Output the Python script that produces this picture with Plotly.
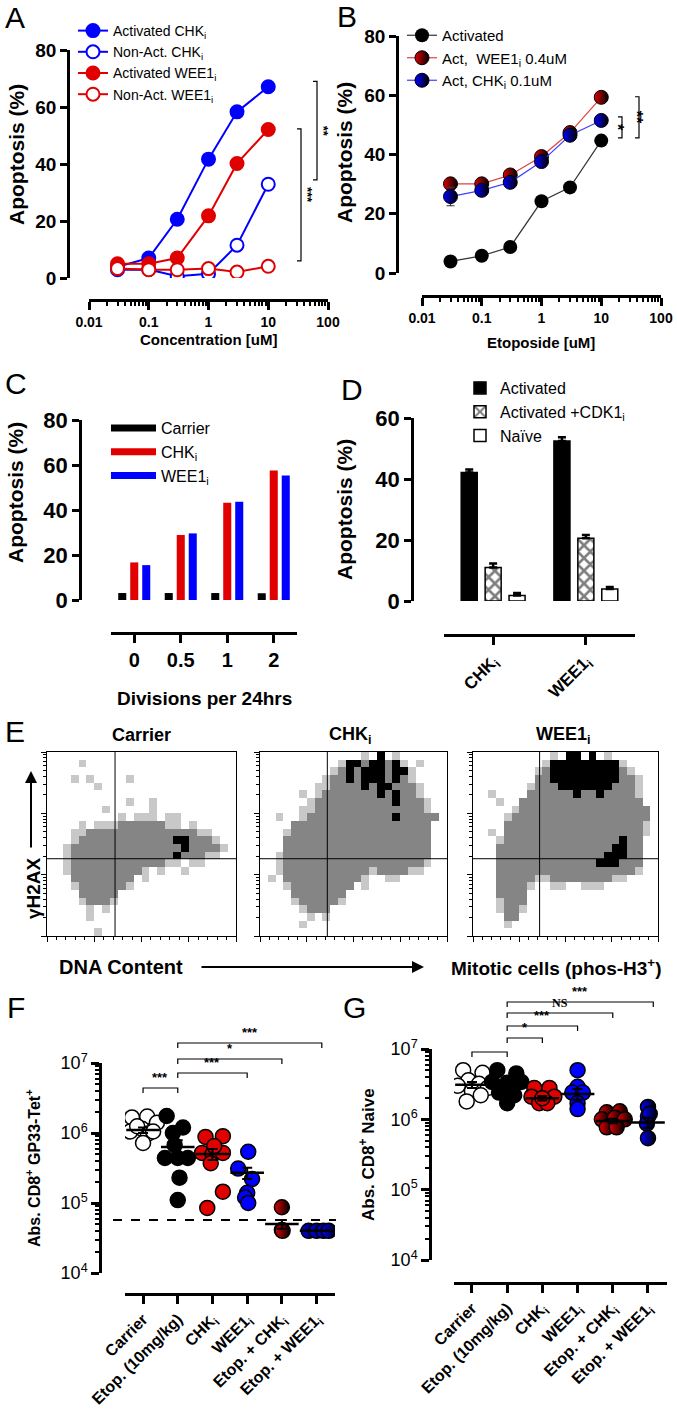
import math
import plotly.graph_objects as go

W, H = 677, 1427
FONT = "Liberation Sans, Arial, Helvetica, sans-serif"
SERIF = "Liberation Serif, Times New Roman, serif"
BLUE = "#0000ff"
RED = "#e00000"
GREY = "#858585"
LIGHT_GREY = "#c8c8c8"


def fx(px):
    return px / W


def fy(py):
    return 1 - py / H


# ---------------- Panel A ----------------
A_CONC = [0.03, 0.1, 0.3, 1, 3, 10]
A_ACT_CHK = [3.9, 7.0, 20.6, 41.7, 58.3, 67.1]
A_NONACT_CHK = [2.9, 3.0, 0.6, 1.5, 11.5, 32.9]
A_ACT_WEE1 = [5.0, 5.0, 7.0, 21.8, 40.2, 52.1]
A_NONACT_WEE1 = [3.3, 2.9, 2.9, 3.3, 2.1, 4.1]
LOG_TICKS = [0.01, 0.1, 1, 10, 100]
LOG_TICKTEXT = ["0.01", "0.1", "1", "10", "100"]

# ---------------- Panel B ----------------
B_CONC = [0.03, 0.1, 0.3, 1, 3, 10]
B_ACT = [3.9, 5.8, 8.8, 24.2, 28.9, 44.7]
B_ACT_WEE1 = [30.1, 30.1, 33.1, 39.3, 47.4, 59.3]
B_ACT_WEE1_ERR = [1.0, 1.0, 1.2, 1.2, 1.0, 1.0]
B_ACT_CHK = [25.8, 27.9, 30.6, 37.6, 46.5, 51.5]
B_ACT_CHK_ERR = [3.1, 0.8, 0.8, 1.8, 0.8, 0.8]

# ---------------- Panel C ----------------
C_DIVISIONS = ["0", "0.5", "1", "2"]
C_CARRIER = [3.1, 3.1, 3.1, 3.0]
C_CHK = [16.7, 28.9, 43.2, 57.6]
C_WEE1 = [15.5, 29.6, 43.7, 55.3]

# ---------------- Panel D ----------------
D_CATS = ["CHK", "WEE1"]
D_CAT_LABELS = ["CHK<sub>i</sub>", "WEE1<sub>i</sub>"]
D_ACT = [42.1, 52.5]
D_ACT_ERR = [1.0, 1.2]
D_CDK1 = [11.0, 20.6]
D_CDK1_ERR = [1.3, 1.0]
D_NAIVE = [1.8, 3.9]
D_NAIVE_ERR = [0.8, 0.7]

# ---------------- Panel E (density levels: ' ' none, '.' sparse, 'g' grey, 'k' dense) ----
E_TITLES = ["Carrier", "CHK<sub>i</sub>", "WEE1<sub>i</sub>"]
E_CARRIER = [
    "                        ",
    "    .                   ",
    "                        ",
    "   . .    .             ",
    "      .                 ",
    "                        ",
    "          .  .          ",
    "       .     .          ",
    "         . ... ..       ",
    "    . ...gggggg.. .     ",
    "   ..gggggggggggggg..   ",
    "   .ggggggggggggkkggg.  ",
    "  .ggggggggggggggkgggg. ",
    "  .gggggggggggggkggg..  ",
    "  .gggggggggggg.. ..    ",
    "  .ggggggggg. .  .      ",
    "   gggggggg .           ",
    "   .gggggg.             ",
    "    ggggg               ",
    "    .ggg.               ",
    "     . .                ",
    "     .                  ",
    "                        ",
    "      .                 ",
]
E_CHK = [
    "             . k .      ",
    "          .kkgkkgk. .   ",
    "         .gkgkkkgkk.    ",
    "        .ggkgkkkgkg.    ",
    "       ..ggggkgkkggg.   ",
    "     . .gggggggkgkgg.   ",
    "      .ggggggggggkggg.  ",
    "     ..gggggggggggggg.  ",
    "  .  .gggggggggggkggggg ",
    "    gggggggggggggggggg  ",
    "   .gggggggggggggggggg  ",
    "   ggggggggggggggggggg  ",
    "   ggggggggggggggggggg  ",
    "  .ggggggggggggggggggg  ",
    "  .gggggggggggggggggg.  ",
    "  .ggggggggggg.gggg..   ",
    " . gggggggggg.  ..      ",
    "   .gggggggg .          ",
    "    ggggggg             ",
    "    .ggggg.             ",
    "     .ggg               ",
    "      . .               ",
    "     .                  ",
    "                        ",
]
E_WEE1 = [
    "          . kk k .      ",
    "         .kkkkkkkkk.    ",
    "        .gkkkkkkkkkg.   ",
    "        ggkkkkkkkkkgg.  ",
    "       .gggkkkkkkkggg.  ",
    "  .    ggggggkggkgggg.  ",
    "   .  gggggggggggggggg  ",
    "     .ggggggggggggggggg ",
    "    .gggggggggggggggggg ",
    "    gggggggggggggggggg. ",
    "  . gggggggggggggggggg. ",
    "   .gggggggggggggggkgg  ",
    "   gggggggggggggggkkgg  ",
    "   ggggggggggggggkkkgg  ",
    "   gggggggggggggkkkggg  ",
    "   gggggggggggggggggg.  ",
    "   ggggg..gggggggg..    ",
    "   gggg.  ..  ...       ",
    "   gggg                 ",
    "   .ggg                 ",
    "   .gg.                 ",
    "    gg                  ",
    "    .                   ",
    "                        ",
]
E_GATE_X = 0.36
E_GATE_Y = 0.42

# ---------------- Panel F ----------------
GROUP_LABELS = ["Carrier", "Etop. (10mg/kg)", "CHK<sub>i</sub>", "WEE1<sub>i</sub>",
                "Etop. + CHK<sub>i</sub>", "Etop. + WEE1<sub>i</sub>"]
F_CARRIER = [1.67e6, 1.72e6, 1.4e6, 1.05e6, 1.15e6, 0.98e6, 1.25e6, 1.05e6, 7.2e5]
F_CARRIER_DX = [-0.32, 0.12, 0.4, -0.37, -0.03, 0.14, -0.17, 0.29, 0.0]
F_ETOP = [1.75e6, 1.2e6, 1.0e6, 6.7e5, 4.4e5, 4.4e5, 4.4e5, 2.3e5, 1.1e5]
F_ETOP_DX = [-0.32, 0.15, -0.14, -0.09, -0.37, 0.0, 0.29, 0.05, 0.0]
F_CHK = [8.8e5, 9.0e5, 5.2e5, 5.0e5, 5.2e5, 3.7e5, 1.45e5, 8.5e4, 6.5e5]
F_CHK_DX = [-0.2, 0.3, -0.3, 0.0, 0.3, -0.05, 0.3, -0.15, 0.05]
F_WEE1 = [5.4e5, 3.1e5, 2.2e5, 1.4e5, 1.2e5, 1.0e5]
F_WEE1_DX = [0.03, -0.26, 0.14, 0.0, -0.06, 0.03]
F_ETOP_CHK = [8.7e4, 4.1e4, 4.0e4]
F_ETOP_CHK_DX = [0.0, 0.0, 0.02]
F_ETOP_WEE1 = [4.0e4, 4.0e4, 4.0e4, 4.0e4]
F_ETOP_WEE1_DX = [-0.23, 0.0, 0.2, 0.35]
F_MEAN = [1.1e6, 6.3e5, 5.0e5, 2.7e5, 5.0e4, 4.0e4]
F_SEM = [1.0e5, 1.6e5, 9.0e4, 5.0e4, 7.0e3, 0.0]
F_LIMIT = 5.7e4

# ---------------- Panel G ----------------
G_CARRIER = [5.0e6, 4.6e6, 3.6e6, 3.2e6, 3.0e6, 2.8e6, 2.5e6, 2.2e6, 1.8e6]
G_CARRIER_DX = [-0.25, 0.3, -0.1, 0.2, -0.4, 0.45, 0.0, 0.25, -0.15]
G_ETOP = [5.0e6, 4.5e6, 3.4e6, 3.3e6, 3.4e6, 2.4e6, 2.2e6, 1.7e6, 2.8e6]
G_ETOP_DX = [-0.28, 0.26, -0.43, 0.0, 0.4, -0.23, 0.2, 0.0, 0.1]
G_CHK = [2.8e6, 2.8e6, 2.1e6, 2.1e6, 1.7e6, 1.7e6, 2.0e6]
G_CHK_DX = [-0.23, 0.2, -0.31, 0.34, -0.09, 0.14, 0.0]
G_WEE1 = [5.0e6, 2.9e6, 2.4e6, 2.4e6, 1.7e6, 1.4e6]
G_WEE1_DX = [0.0, 0.0, -0.15, 0.15, 0.0, 0.0]
G_ETOP_CHK = [1.26e6, 1.3e6, 1.0e6, 1.05e6, 1.0e6, 7.7e5, 7.7e5]
G_ETOP_CHK_DX = [-0.17, 0.2, -0.31, 0.06, 0.34, -0.17, 0.11]
G_ETOP_WEE1 = [1.5e6, 1.1e6, 8.7e5, 5.4e5, 1.2e6]
G_ETOP_WEE1_DX = [0.0, 0.0, -0.03, 0.0, 0.05]
G_MEAN = [3.1e6, 2.9e6, 2.0e6, 2.3e6, 9.5e5, 9.0e5]
G_SEM = [3.0e5, 3.0e5, 1.5e5, 4.0e5, 7.0e4, 1.5e5]

# =====================================================================
fig = go.Figure()
shapes = []
annotations = []


def bfont(size, bold=True, family=FONT):
    return dict(family=family, size=size, color="black", weight="bold" if bold else "normal")


def add_text(text, xpx, ypx, size, bold=True, angle=0, family=FONT, xanchor="center", yanchor="middle"):
    annotations.append(dict(text=text, x=fx(xpx), y=fy(ypx), xref="paper", yref="paper",
                            showarrow=False, textangle=angle, xanchor=xanchor, yanchor=yanchor,
                            font=bfont(size, bold, family)))


def hbracket(xref, i0, i1, ypx, label, drop=5, size=13, family=FONT):
    shapes.append(dict(type="path", xref=xref, yref="paper",
                       path=f"M {i0},{fy(ypx + drop)} L {i0},{fy(ypx)} L {i1},{fy(ypx)} L {i1},{fy(ypx + drop)}",
                       line=dict(color="black", width=1.2)))
    if label:
        annotations.append(dict(text=label, x=(i0 + i1) / 2, xref=xref, y=fy(ypx - 1), yref="paper",
                                yanchor="bottom", showarrow=False, font=bfont(size, True, family)))


def vbracket(yref, v0, v1, xpx, label, tick=4, text_dx=6, size=13):
    shapes.append(dict(type="path", xref="paper", yref=yref,
                       path=f"M {fx(xpx - tick)},{v0} L {fx(xpx)},{v0} L {fx(xpx)},{v1} L {fx(xpx - tick)},{v1}",
                       line=dict(color="black", width=1.2)))
    annotations.append(dict(text=label, x=fx(xpx + text_dx), y=(v0 + v1) / 2, xref="paper", yref=yref,
                            textangle=90, showarrow=False, font=bfont(size)))


# ---------- Panel A traces ----------
for name, ys, col, filled in [
    ("Activated CHK<sub>i</sub>", A_ACT_CHK, BLUE, True),
    ("Non-Act. CHK<sub>i</sub>", A_NONACT_CHK, BLUE, False),
    ("Activated WEE1<sub>i</sub>", A_ACT_WEE1, RED, True),
    ("Non-Act. WEE1<sub>i</sub>", A_NONACT_WEE1, RED, False),
]:
    fig.add_trace(go.Scatter(
        x=A_CONC, y=ys, name=name, mode="lines+markers", xaxis="x", yaxis="y", legend="legend",
        line=dict(color=col, width=2),
        marker=dict(size=13, color=col if filled else "white", line=dict(color=col, width=2))))

# ---------- Panel B traces ----------
fig.add_trace(go.Scatter(
    x=B_CONC, y=B_ACT, name="Activated", mode="lines+markers", xaxis="x2", yaxis="y2", legend="legend2",
    line=dict(color="#333333", width=1.2), marker=dict(size=14, color="black")))
fig.add_trace(go.Scatter(
    x=B_CONC, y=B_ACT_WEE1, name="Act,  WEE1<sub>i</sub> 0.4uM", mode="lines+markers",
    xaxis="x2", yaxis="y2", legend="legend2",
    error_y=dict(type="data", array=B_ACT_WEE1_ERR, color="#333333", thickness=1.2, width=4),
    line=dict(color="#e04040", width=1.2),
    marker=dict(size=14, color=RED, line=dict(color="black", width=1),
                gradient=dict(type="horizontal", color="black"))))
fig.add_trace(go.Scatter(
    x=B_CONC, y=B_ACT_CHK, name="Act, CHK<sub>i</sub> 0.1uM", mode="lines+markers",
    xaxis="x2", yaxis="y2", legend="legend2",
    error_y=dict(type="data", array=B_ACT_CHK_ERR, color="#333333", thickness=1.2, width=4),
    line=dict(color="#4040ff", width=1.2),
    marker=dict(size=14, color=BLUE, line=dict(color="black", width=1),
                gradient=dict(type="horizontal", color="black"))))

# ---------- Panel C traces ----------
for name, ys, col in [("Carrier", C_CARRIER, "black"), ("CHK<sub>i</sub>", C_CHK, "#e00000"),
                      ("WEE1<sub>i</sub>", C_WEE1, "#0000ff")]:
    fig.add_trace(go.Bar(x=C_DIVISIONS, y=ys, name=name, xaxis="x3", yaxis="y3", showlegend=False,
                         marker=dict(color=col, line=dict(width=0))))
    fig.add_trace(go.Scatter(x=[None], y=[None], name=name, mode="lines", xaxis="x3", yaxis="y3",
                             legend="legend3", legendgroup=name, line=dict(color=col, width=7)))

# ---------- Panel D traces ----------
fig.add_trace(go.Bar(
    x=D_CATS, y=D_ACT, name="Activated", xaxis="x4", yaxis="y4", legend="legend4",
    marker=dict(color="black", line=dict(color="black", width=1.5)),
    error_y=dict(type="data", array=D_ACT_ERR, arrayminus=[0, 0], color="black", thickness=2.5, width=4)))
fig.add_trace(go.Bar(
    x=D_CATS, y=D_CDK1, name="Activated +CDK1<sub>i</sub>", xaxis="x4", yaxis="y4", legend="legend4",
    marker=dict(color="white", line=dict(color="black", width=1.5),
                pattern=dict(shape="x", fgcolor="black", bgcolor="white", size=9, solidity=0.5,
                             fillmode="overlay")),
    error_y=dict(type="data", array=D_CDK1_ERR, arrayminus=[0, 0], color="black", thickness=2.5, width=4)))
fig.add_trace(go.Bar(
    x=D_CATS, y=D_NAIVE, name="Naïve", xaxis="x4", yaxis="y4", legend="legend4",
    marker=dict(color="white", line=dict(color="black", width=1.5)),
    error_y=dict(type="data", array=D_NAIVE_ERR, arrayminus=[0, 0], color="black", thickness=2.5, width=4)))

# ---------- Panel E traces ----------
LEVEL = {" ": 0, ".": 1, "g": 2, "k": 3}
E_N = 24
E_XS = [(i + 0.5) / E_N for i in range(E_N)]
E_YS = [1 - (r + 0.5) / E_N for r in range(E_N)]
E_SCALE = [[0, "white"], [0.1667, "white"], [0.1667, LIGHT_GREY], [0.5, LIGHT_GREY],
           [0.5, GREY], [0.8333, GREY], [0.8333, "black"], [1, "black"]]
for k, grid in enumerate([E_CARRIER, E_CHK, E_WEE1]):
    n = 5 + k
    z = [[LEVEL.get(ch, 0) for ch in row.ljust(E_N)[:E_N]] for row in grid]
    fig.add_trace(go.Heatmap(x=E_XS, y=E_YS, z=z, zmin=0, zmax=3, colorscale=E_SCALE, showscale=False,
                             xaxis=f"x{n}", yaxis=f"y{n}", hoverinfo="skip"))
    shapes.append(dict(type="line", xref=f"x{n}", yref=f"y{n}", x0=E_GATE_X, x1=E_GATE_X, y0=0, y1=1,
                       line=dict(color="black", width=1)))
    shapes.append(dict(type="line", xref=f"x{n}", yref=f"y{n}", x0=0, x1=1, y0=E_GATE_Y, y1=E_GATE_Y,
                       line=dict(color="black", width=1)))


# ---------- Panels F & G traces ----------
def dot_traces(xa, ya, groups, means, sems):
    styles = [
        dict(color="white", line=dict(color="black", width=1.5)),
        dict(color="black", line=dict(color="black", width=1.5)),
        dict(color=RED, line=dict(color="black", width=1.5)),
        dict(color=BLUE, line=dict(color="black", width=1.5)),
        dict(color=RED, line=dict(color="black", width=1.5), gradient=dict(type="horizontal", color="black")),
        dict(color=BLUE, line=dict(color="black", width=1.5), gradient=dict(type="horizontal", color="black")),
    ]
    for gi, (vals, dxs) in enumerate(groups):
        fig.add_trace(go.Scatter(x=[gi + d for d in dxs], y=vals, mode="markers", xaxis=xa, yaxis=ya,
                                 showlegend=False, marker=dict(size=15, **styles[gi])))
    fig.add_trace(go.Scatter(x=list(range(len(means))), y=means, mode="markers", xaxis=xa, yaxis=ya,
                             showlegend=False,
                             marker=dict(symbol="line-ew", size=24, line=dict(color="black", width=2.5)),
                             error_y=dict(type="data", array=sems, color="black", thickness=2, width=5)))


dot_traces("x8", "y8", [(F_CARRIER, F_CARRIER_DX), (F_ETOP, F_ETOP_DX), (F_CHK, F_CHK_DX),
                        (F_WEE1, F_WEE1_DX), (F_ETOP_CHK, F_ETOP_CHK_DX), (F_ETOP_WEE1, F_ETOP_WEE1_DX)],
           F_MEAN, F_SEM)
dot_traces("x9", "y9", [(G_CARRIER, G_CARRIER_DX), (G_ETOP, G_ETOP_DX), (G_CHK, G_CHK_DX),
                        (G_WEE1, G_WEE1_DX), (G_ETOP_CHK, G_ETOP_CHK_DX), (G_ETOP_WEE1, G_ETOP_WEE1_DX)],
           G_MEAN, G_SEM)

shapes.append(dict(type="line", xref="paper", yref="y8", x0=fx(113), x1=fx(336), y0=F_LIMIT, y1=F_LIMIT,
                   line=dict(color="black", width=2, dash="dash")))


# =====================================================================
def prism(**kw):
    d = dict(showline=True, linewidth=2.5, linecolor="black", ticks="outside", tickwidth=2.5, ticklen=7,
             tickcolor="black", showgrid=False, zeroline=False, fixedrange=True, automargin=False,
             tickfont=bfont(18))
    d.update(kw)
    return d


LOG_MINOR = [k * 10 ** e for e in range(-2, 2) for k in range(2, 10)]
DEC_MINOR = [k * 10 ** e for e in range(4, 7) for k in range(2, 10)]
E_XMINOR = [i * 0.05 for i in range(21) if i % 5]
E_YMINOR = [(d + math.log10(k)) / 3 for d in range(3) for k in range(2, 10)]

layout_axes = dict(
    # A
    xaxis=prism(domain=[fx(89), fx(328)], type="log", range=[-2, 2], anchor="free", position=fy(300),
                tickvals=LOG_TICKS, ticktext=LOG_TICKTEXT, tickfont=bfont(14), ticklen=8,
                minor=dict(ticks="outside", ticklen=4, tickwidth=1.5, tickcolor="black", tickvals=LOG_MINOR)),
    yaxis=prism(domain=[fy(278), fy(50)], range=[0, 80], anchor="free", position=fx(68),
                tickvals=[0, 20, 40, 60, 80], tickfont=bfont(19)),
    # B
    xaxis2=prism(domain=[fx(422), fx(661)], type="log", range=[-2, 2], anchor="free", position=fy(296),
                 tickvals=LOG_TICKS, ticktext=LOG_TICKTEXT, tickfont=bfont(14), ticklen=8,
                 minor=dict(ticks="outside", ticklen=4, tickwidth=1.5, tickcolor="black", tickvals=LOG_MINOR)),
    yaxis2=prism(domain=[fy(273), fy(36)], range=[0, 80], anchor="free", position=fx(397),
                 tickvals=[0, 20, 40, 60, 80], tickfont=bfont(19)),
    # C
    xaxis3=prism(domain=[fx(111), fx(297)], type="category", range=[-0.5, 3.5], anchor="free",
                 position=fy(633), tickvals=C_DIVISIONS, tickfont=bfont(20), ticklen=8),
    yaxis3=prism(domain=[fy(600), fy(420)], range=[0, 80], anchor="free", position=fx(80),
                 tickvals=[0, 20, 40, 60, 80], tickfont=bfont(22)),
    # D
    xaxis4=prism(domain=[fx(444), fx(635)], type="category", range=[-0.53, 1.53], anchor="free",
                 position=fy(635), tickvals=D_CATS, ticktext=D_CAT_LABELS, tickangle=-45,
                 tickfont=bfont(17), ticklen=8),
    yaxis4=prism(domain=[fy(601), fy(418)], range=[0, 60], anchor="free", position=fx(412),
                 tickvals=[0, 20, 40, 60], tickfont=bfont(22)),
    # F
    xaxis8=prism(domain=[fx(125), fx(335)], range=[-0.52, 5.53], anchor="free", position=fy(1294),
                 tickvals=list(range(6)), ticktext=GROUP_LABELS, tickangle=-45, tickfont=bfont(16),
                 ticklen=8),
    yaxis8=prism(domain=[fy(1273), fy(1063)], type="log", range=[4, 7], anchor="free", position=fx(100),
                 tickvals=[1e4, 1e5, 1e6, 1e7],
                 ticktext=["10<sup>4</sup>", "10<sup>5</sup>", "10<sup>6</sup>", "10<sup>7</sup>"],
                 tickfont=bfont(18, False), ticklen=8,
                 minor=dict(ticks="outside", ticklen=4, tickwidth=1.5, tickcolor="black", tickvals=DEC_MINOR)),
    # G
    xaxis9=prism(domain=[fx(454), fx(667)], range=[-0.51, 5.54], anchor="free", position=fy(1283),
                 tickvals=list(range(6)), ticktext=GROUP_LABELS, tickangle=-45, tickfont=bfont(16),
                 ticklen=8),
    yaxis9=prism(domain=[fy(1260), fy(1049)], type="log", range=[4, 7], anchor="free", position=fx(430),
                 tickvals=[1e4, 1e5, 1e6, 1e7],
                 ticktext=["10<sup>4</sup>", "10<sup>5</sup>", "10<sup>6</sup>", "10<sup>7</sup>"],
                 tickfont=bfont(18, False), ticklen=8,
                 minor=dict(ticks="outside", ticklen=4, tickwidth=1.5, tickcolor="black", tickvals=DEC_MINOR)),
)

E_FRAMES = [(47, 236), (260, 447), (473, 658)]
for k, (x0, x1) in enumerate(E_FRAMES):
    n = 5 + k
    layout_axes[f"xaxis{n}"] = dict(domain=[fx(x0), fx(x1)], range=[0, 1], anchor=f"y{n}", showline=True,
                                    mirror=True, linewidth=1, linecolor="black", ticks="outside", ticklen=5,
                                    tickwidth=1, tickcolor="black", tickvals=[0, 0.25, 0.5, 0.75, 1],
                                    showticklabels=False, showgrid=False, zeroline=False, fixedrange=True,
                                    automargin=False,
                                    minor=dict(ticks="outside", ticklen=3, tickwidth=1, tickcolor="black",
                                               tickvals=E_XMINOR))
    layout_axes[f"yaxis{n}"] = dict(domain=[fy(936), fy(752)], range=[0, 1], anchor=f"x{n}", showline=True,
                                    mirror=True, linewidth=1, linecolor="black", ticks="outside", ticklen=5,
                                    tickwidth=1, tickcolor="black", tickvals=[0, 1 / 3, 2 / 3, 1],
                                    showticklabels=False, showgrid=False, zeroline=False, fixedrange=True,
                                    automargin=False,
                                    minor=dict(ticks="outside", ticklen=3, tickwidth=1, tickcolor="black",
                                               tickvals=E_YMINOR))

# ---------- text ----------
for letter, xp, yp in [("A", 15, 17), ("B", 347, 16), ("C", 16, 383), ("D", 352, 390),
                       ("E", 15, 732), ("F", 16, 1007), ("G", 354, 1007)]:
    add_text(letter, xp, yp, 30, bold=False)

add_text("Apoptosis (%)", 16, 155, 21, angle=-90)
add_text("Apoptosis (%)", 344, 153, 21, angle=-90)
add_text("Apoptosis (%)", 16, 493, 21, angle=-90)
add_text("Apoptosis (%)", 344, 510, 21, angle=-90)
add_text("Concentration [uM]", 208, 340, 15)
add_text("Etoposide [uM]", 541, 342, 15)
add_text("Divisions per 24hrs", 204, 698, 19)

for title, xp in zip(E_TITLES, [141, 350, 563]):
    add_text(title, xp, 735, 18)
add_text("γH2AX", 33, 888, 19, angle=-90)
add_text("DNA Content", 121, 967, 20)
add_text("Mitotic cells (phos-H3<sup>+</sup>)", 556, 967, 19)
annotations.append(dict(text="", x=fx(31), y=fy(771), xref="paper", yref="paper", ax=0, ay=78,
                        showarrow=True, arrowhead=2, arrowsize=1.2, arrowwidth=2, arrowcolor="black"))
annotations.append(dict(text="", x=fx(424), y=fy(967), xref="paper", yref="paper", ax=-224, ay=0,
                        showarrow=True, arrowhead=2, arrowsize=1.2, arrowwidth=2, arrowcolor="black"))

add_text("Abs. CD8<sup>+</sup> GP33-Tet<sup>+</sup>", 33, 1168, 16, angle=-90)
add_text("Abs. CD8<sup>+</sup> Naive", 367, 1154, 17, angle=-90)

# significance brackets
vbracket("y", 69.0, 34.4, 317, "**")
vbracket("y", 52.3, 6.0, 301, "***")
vbracket("y2", 52.7, 45.6, 622, "*", size=16)
vbracket("y2", 59.5, 45.6, 639, "**", text_dx=8, size=16)

hbracket("x8", 0, 1, 1088, "***")
hbracket("x8", 1, 3, 1073, "***")
hbracket("x8", 1, 4, 1059, "*")
hbracket("x8", 1, 5.15, 1043, "***")

hbracket("x9", 0, 1, 1052, "")
hbracket("x9", 1, 2, 1038, "*")
hbracket("x9", 1, 3, 1026, "***")
hbracket("x9", 1, 4, 1013, "NS", size=12, family=SERIF)
hbracket("x9", 1, 5.15, 1002, "***")

legend_common = dict(xanchor="left", yanchor="top", bgcolor="rgba(0,0,0,0)", borderwidth=0,
                     traceorder="normal")

fig.update_layout(
    width=W, height=H, autosize=False,
    margin=dict(l=0, r=0, t=0, b=0, pad=0, autoexpand=False),
    paper_bgcolor="white", plot_bgcolor="rgba(0,0,0,0)",
    font=dict(family=FONT, color="black"),
    barmode="group", bargap=0.226, bargroupgap=0.33,
    hovermode=False,
    showlegend=True,
    legend=dict(x=fx(73), y=fy(15), font=dict(family=FONT, size=14, color="black"), **legend_common),
    legend2=dict(x=fx(402), y=fy(19), font=dict(family=FONT, size=15, color="black"), **legend_common),
    legend3=dict(x=fx(106), y=fy(411), font=dict(family=FONT, size=16, color="black"), itemwidth=45,
                 tracegroupgap=6, **legend_common),
    legend4=dict(x=fx(460), y=fy(371), font=dict(family=FONT, size=16, color="black"), **legend_common),
    shapes=shapes,
    annotations=annotations,
)
fig.update_layout(**layout_axes)

fig.write_html("out.html", config={"displayModeBar": False},
               post_script="document.body.style.margin='0px';document.body.style.overflow='hidden';")
